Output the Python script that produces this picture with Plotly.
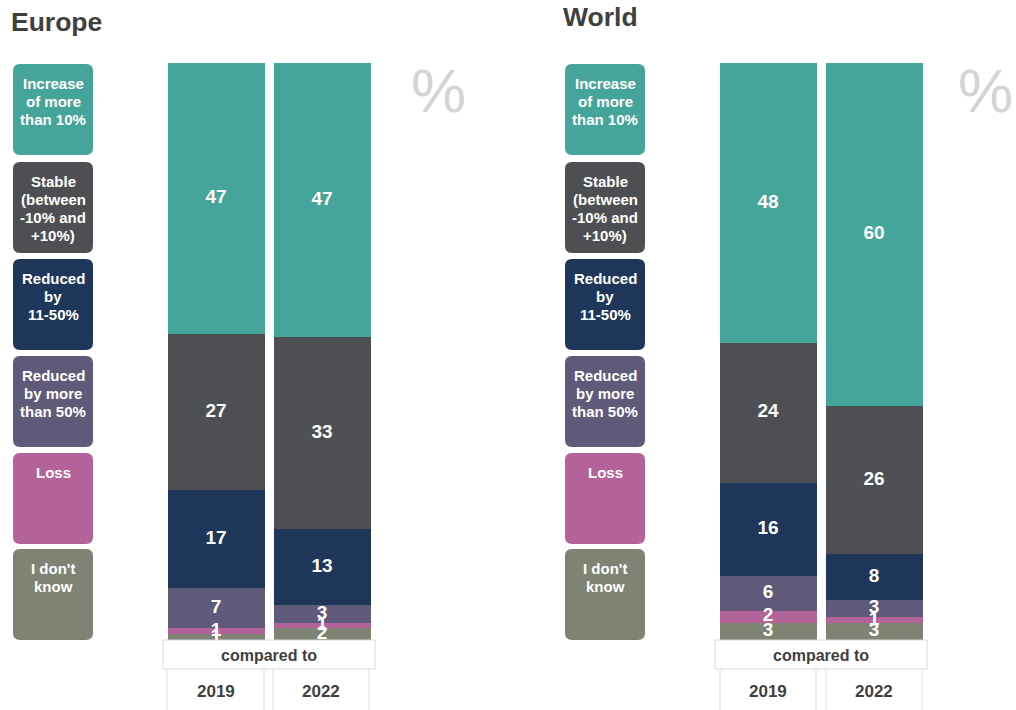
import plotly.graph_objects as go

W, H = 1016, 710

years = ["2019", "2022"]
categories = ["I don't know", "Loss", "Reduced by more than 50%", "Reduced by 11-50%",
              "Stable (between -10% and +10%)", "Increase of more than 10%"]
legend_lines = [["I don't", "know"], ["Loss"], ["Reduced", "by more", "than 50%"], ["Reduced", "by", "11-50%"],
                ["Stable", "(between", "-10% and", "+10%)"], ["Increase", "of more", "than 10%"]]
colors = ["#7e8374", "#b4639a", "#5f5a79", "#1e365a", "#4e4f53", "#46a59a"]

# values bottom -> top, per year [2019, 2022]
europe = {
    "I don't know": [1, 2],
    "Loss": [1, 1],
    "Reduced by more than 50%": [7, 3],
    "Reduced by 11-50%": [17, 13],
    "Stable (between -10% and +10%)": [27, 33],
    "Increase of more than 10%": [47, 47],
}
world = {
    "I don't know": [3, 3],
    "Loss": [2, 1],
    "Reduced by more than 50%": [6, 3],
    "Reduced by 11-50%": [16, 8],
    "Stable (between -10% and +10%)": [24, 26],
    "Increase of more than 10%": [48, 60],
}


def px(x):
    return x / W


def py(y):
    return 1 - y / H


fig = go.Figure()

for data, xa, ya in [(europe, "x", "y"), (world, "x2", "y2")]:
    for cat, col in zip(categories, colors):
        vals = data[cat]
        fig.add_trace(go.Bar(
            x=years, y=vals, name=cat, xaxis=xa, yaxis=ya,
            marker=dict(color=col, line=dict(width=0)),
            width=0.915, showlegend=False, hoverinfo="name+y",
        ))
    # value labels on top of all bars, at the middle of each (normalised) segment
    lx, ly, lt = [], [], []
    for j, yr in enumerate(years):
        total = sum(data[c][j] for c in categories)
        cum = 0
        for c in categories:
            v = data[c][j]
            lx.append(yr)
            ly.append((cum + v / 2) / total * 100)
            lt.append(str(v))
            cum += v
    fig.add_trace(go.Scatter(
        x=lx, y=ly, text=lt, mode="text", xaxis=xa, yaxis=ya, cliponaxis=False,
        textposition="middle center", showlegend=False, hoverinfo="skip",
        textfont=dict(color="white", size=19, family="Liberation Sans", weight="bold"),
    ))

# panel geometry (pixels)
panels = [
    dict(title="Europe", tx=9, ty=22, leg_x=13, bars=(163, 375), cells=[(167, 264), (273, 369)], pct_x=438),
    dict(title="World", tx=561, ty=17, leg_x=565, bars=(715, 927), cells=[(720, 816), (826, 922)], pct_x=985),
]

bar_top, bar_bottom = 63, 640

layout = dict(
    width=W, height=H, margin=dict(l=0, r=0, t=0, b=0),
    paper_bgcolor="white", plot_bgcolor="white",
    barmode="stack", barnorm="percent", bargap=0,
    showlegend=False,
)
for i, p in enumerate(panels):
    sfx = "" if i == 0 else "2"
    layout["xaxis" + sfx] = dict(domain=[px(p["bars"][0]), px(p["bars"][1])], range=[-0.5, 1.5],
                                 visible=False, type="category", anchor="y" + sfx, fixedrange=True)
    layout["yaxis" + sfx] = dict(domain=[py(bar_bottom), py(bar_top)], range=[0, 100],
                                 visible=False, anchor="x" + sfx, fixedrange=True)
fig.update_layout(**layout)

shapes = []
annotations = []


def rounded(x0, y0, x1, y1, r=7):
    rx, ry = r / W, r / H
    X0, X1 = px(x0), px(x1)
    Y0, Y1 = py(y0), py(y1)  # Y0 top (higher), Y1 bottom
    return (f"M {X0+rx},{Y0} L {X1-rx},{Y0} Q {X1},{Y0} {X1},{Y0-ry} "
            f"L {X1},{Y1+ry} Q {X1},{Y1} {X1-rx},{Y1} "
            f"L {X0+rx},{Y1} Q {X0},{Y1} {X0},{Y1+ry} "
            f"L {X0},{Y0-ry} Q {X0},{Y0} {X0+rx},{Y0} Z")


box_tops = [64, 162, 259, 356, 453, 549]
box_h = 91
label_font = dict(family="Liberation Sans", size=15, color="white", weight="bold")
dark_font = dict(family="Liberation Sans", color="#3f3f3f", weight="bold")

for p in panels:
    # title
    annotations.append(dict(text=p["title"], x=px(p["tx"]), y=py(p["ty"]), xref="paper", yref="paper",
                            xanchor="left", yanchor="middle", showarrow=False,
                            font=dict(family="Liberation Sans", size=26.5, color="#404040", weight="bold")))
    # percent sign
    annotations.append(dict(text="%", x=px(p["pct_x"]), y=py(90), xref="paper", yref="paper",
                            xanchor="center", yanchor="middle", showarrow=False,
                            font=dict(family="Liberation Sans", size=62, color="#d4d4d4")))
    # legend boxes (top to bottom = reversed categories)
    for top, lines, col in zip(box_tops, legend_lines[::-1], colors[::-1]):
        x0 = p["leg_x"]
        shapes.append(dict(type="path", path=rounded(x0, top, x0 + 80, top + box_h), xref="paper", yref="paper",
                           fillcolor=col, line=dict(width=0), layer="below"))
        for k, ln in enumerate(lines):
            annotations.append(dict(text=ln, x=px(x0 + 40), y=py(top + 19.5 + 18 * k), xref="paper", yref="paper",
                                    xanchor="center", yanchor="middle", showarrow=False,
                                    font=label_font))
    # compared to box
    bx0, bx1 = p["bars"]
    shapes.append(dict(type="rect", x0=px(bx0), x1=px(bx1), y0=py(669), y1=py(640), xref="paper", yref="paper",
                       fillcolor="white", line=dict(color="#d9d9d9", width=1)))
    annotations.append(dict(text="compared to", x=px((bx0 + bx1) / 2), y=py(655), xref="paper", yref="paper",
                            xanchor="center", yanchor="middle", showarrow=False,
                            font=dict(size=16, **dark_font)))
    for (c0, c1), yr in zip(p["cells"], years):
        shapes.append(dict(type="rect", x0=px(c0), x1=px(c1), y0=py(715), y1=py(669), xref="paper", yref="paper",
                           fillcolor="white", line=dict(color="#e0e0e0", width=1)))
        annotations.append(dict(text=yr, x=px((c0 + c1) / 2), y=py(691), xref="paper", yref="paper",
                                xanchor="center", yanchor="middle", showarrow=False,
                                font=dict(size=17, **dark_font)))

fig.update_layout(shapes=shapes, annotations=annotations)
fig.write_html("out.html")
